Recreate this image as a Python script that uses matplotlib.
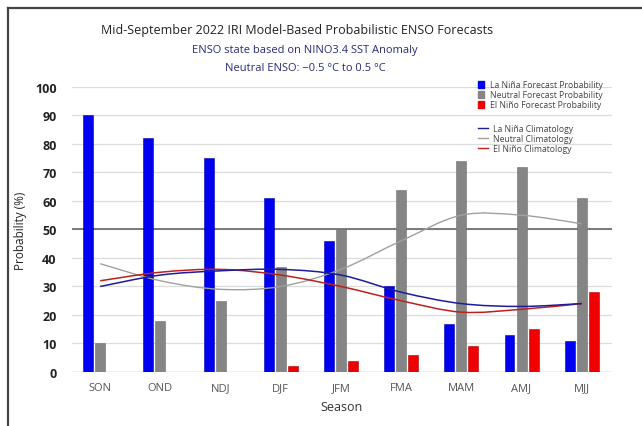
import matplotlib
matplotlib.use('Agg')
import matplotlib.pyplot as plt
import numpy as np
from matplotlib.path import Path
from matplotlib.patches import PathPatch
from matplotlib.lines import Line2D
from matplotlib.patches import Patch

# Data
seasons = ['SON', 'OND', 'NDJ', 'DJF', 'JFM', 'FMA', 'MAM', 'AMJ', 'MJJ']
la_nina = [90, 82, 75, 61, 46, 30, 17, 13, 11]
neutral = [10, 18, 25, 37, 50, 64, 74, 72, 61]
el_nino = [0, 0, 0, 2, 4, 6, 9, 15, 28]

clim_la_nina = [30, 34, 35.5, 36, 34, 28, 24, 23, 24]
clim_neutral = [38, 32, 29, 30, 36, 46, 55, 55, 52]
clim_el_nino = [32, 35, 36, 34, 30, 25, 21, 22, 24]

plt.rcParams['font.family'] = ['Open Sans', 'DejaVu Sans']


def smooth_curve(ax, xs, ys, color, lw):
    # Catmull-Rom style cubic bezier through the points
    xs = np.asarray(xs, dtype=float)
    ys = np.asarray(ys, dtype=float)
    verts = [(xs[0], ys[0])]
    codes = [Path.MOVETO]
    n = len(xs)
    for i in range(n - 1):
        p0 = (xs[max(i - 1, 0)], ys[max(i - 1, 0)])
        p1 = (xs[i], ys[i])
        p2 = (xs[i + 1], ys[i + 1])
        p3 = (xs[min(i + 2, n - 1)], ys[min(i + 2, n - 1)])
        c1 = (p1[0] + (p2[0] - p0[0]) / 6, p1[1] + (p2[1] - p0[1]) / 6)
        c2 = (p2[0] - (p3[0] - p1[0]) / 6, p2[1] - (p3[1] - p1[1]) / 6)
        verts += [c1, c2, p2]
        codes += [Path.CURVE4] * 3
    ax.add_patch(PathPatch(Path(verts, codes), facecolor='none', edgecolor=color, lw=lw, zorder=4))


fig = plt.figure(figsize=(6.42, 4.27), dpi=100)
ax = fig.add_axes([0.112, 0.1265, 0.841, 0.6675])

x = np.arange(len(seasons))
w = 0.165
off = 0.2
ax.bar(x - off, la_nina, w, color='#0000f0', edgecolor='#0000b0', lw=0.4, zorder=3)
ax.bar(x, neutral, w, color='#858585', edgecolor='#707070', lw=0.4, zorder=3)
ax.bar(x + off, el_nino, w, color='#f00000', edgecolor='#b00000', lw=0.4, zorder=3)

smooth_curve(ax, x, clim_neutral, '#a0a0a0', 1.0)
smooth_curve(ax, x, clim_el_nino, '#c0201c', 1.1)
smooth_curve(ax, x, clim_la_nina, '#1c1c9c', 1.1)

ax.set_xlim(-0.47, 8.5)
ax.set_ylim(0, 100)
ax.set_yticks(range(0, 101, 10))
ax.yaxis.grid(True, color='#dcdcdc', lw=0.9, zorder=0)
ax.axhline(50, color='#707070', lw=1.3, zorder=2)
ax.axhline(0, color='#cfcfcf', lw=1.0, zorder=2)
for s in ax.spines.values():
    s.set_visible(False)
ax.tick_params(length=0)
ax.set_xticks(x)
ax.set_xticklabels(seasons, fontsize=8, color='#555555')
ax.tick_params(axis='x', pad=7)
ax.tick_params(axis='y', pad=11)
for t in ax.get_yticklabels():
    t.set_fontsize(9)
    t.set_fontweight('bold')
    t.set_color('#222222')
ax.set_xlabel('Season', fontsize=9, color='#333333', labelpad=5)
ax.set_ylabel('Probability (%)', fontsize=8.5, color='#222222', labelpad=6)

h1 = [Patch(color='#0000f0'), Patch(color='#858585'), Patch(color='#f00000')]
l1 = ['La Niña Forecast Probability', 'Neutral Forecast Probability', 'El Niño Forecast Probability']
leg1 = ax.legend(h1, l1, loc='upper left', bbox_to_anchor=(0.745, 1.035), frameon=False,
                 fontsize=6.2, handlelength=0.8, handleheight=0.8, handletextpad=0.6,
                 labelspacing=0.12, labelcolor='#444444', borderaxespad=0)
ax.add_artist(leg1)
h2 = [Line2D([], [], color='#1c1c9c', lw=1), Line2D([], [], color='#a0a0a0', lw=1),
      Line2D([], [], color='#c0201c', lw=1)]
l2 = ['La Niña Climatology', 'Neutral Climatology', 'El Niño Climatology']
ax.legend(h2, l2, loc='upper left', bbox_to_anchor=(0.745, 0.883), frameon=False,
          fontsize=6.2, handlelength=1.2, handletextpad=0.6, labelspacing=0.12,
          labelcolor='#444444', borderaxespad=0)

fig.text(0.463, 0.928, 'Mid-September 2022 IRI Model-Based Probabilistic ENSO Forecasts',
         ha='center', va='center', fontsize=9, color='#222222')
fig.text(0.475, 0.881, 'ENSO state based on NINO3.4 SST Anomaly',
         ha='center', va='center', fontsize=8, color='#2a2a7a')
fig.text(0.475, 0.840, 'Neutral ENSO: \u22120.5 \u00b0C to 0.5 \u00b0C',
         ha='center', va='center', fontsize=8, color='#2a2a7a')

# border lines on the left and top of the screenshot
fig.add_artist(Line2D([0.0125, 0.0125], [0, 0.978], transform=fig.transFigure, color='#444444', lw=1.6))
fig.add_artist(Line2D([0.0125, 1.0], [0.978, 0.978], transform=fig.transFigure, color='#444444', lw=1.6))

fig.savefig('out.png', dpi=100)
